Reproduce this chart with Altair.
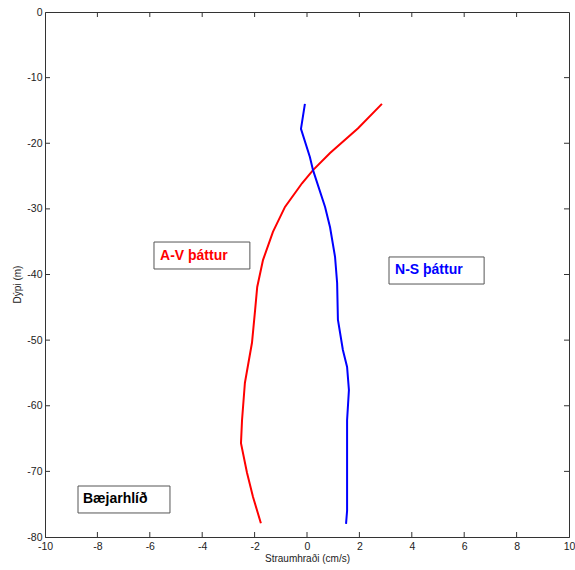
import altair as alt
import pandas as pd

# --- data ---
av_depth = [-14, -17.7, -21.5, -24.1, -26.1, -29.7, -33.5, -37.8, -41.9, -45.4,
            -50.4, -56.5, -62.2, -65.7, -70.2, -73.9, -77.9]
av_speed = [2.86, 1.95, 0.88, 0.23, -0.19, -0.84, -1.30, -1.68, -1.90, -1.98,
            -2.10, -2.37, -2.48, -2.52, -2.29, -2.06, -1.76]

ns_depth = [-14, -17.8, -22.1, -24.1, -29.7, -32.8, -37.3, -41.3, -46.9, -51.5,
            -54.1, -57.6, -62.2, -66.0, -76.0, -78.0]
ns_speed = [-0.08, -0.23, 0.11, 0.23, 0.69, 0.88, 1.07, 1.15, 1.18, 1.37,
            1.53, 1.60, 1.53, 1.53, 1.53, 1.49]

x_ticks = [-10, -8, -6, -4, -2, 0, 2, 4, 6, 8, 10]
y_ticks = [0, -10, -20, -30, -40, -50, -60, -70, -80]

labels = ["A-V þáttur", "N-S þáttur", "Bæjarhlíð"]
label_colors = ["#ff0000", "#0000ff", "#000000"]
label_x = [-5.61, 3.36, -8.55]
label_y = [-37.2, -39.3, -74.2]
box_x1 = [-5.84, 3.13, -8.74]
box_x2 = [-2.18, 6.76, -5.23]
box_y1 = [-35.05, -37.33, -72.23]
box_y2 = [-39.16, -41.45, -76.34]

W, H = 524, 525
FONT = "Liberation Sans"
XT = "Straumhraði (cm/s)"
YT = "Dýpi (m)"

lines_df = pd.concat([
    pd.DataFrame({"v": av_speed, "d": av_depth, "s": "A-V", "i": range(len(av_depth))}),
    pd.DataFrame({"v": ns_speed, "d": ns_depth, "s": "N-S", "i": range(len(ns_depth))}),
])
ann_df = pd.DataFrame({"t": labels, "c": label_colors, "x": label_x, "y": label_y,
                       "x1": box_x1, "x2": box_x2, "y1": box_y1, "y2": box_y2})
xt_df = pd.DataFrame({"t": x_ticks[1:-1]})
yt_df = pd.DataFrame({"t": y_ticks[1:-1]})

xs = alt.Scale(domain=[-10, 10], nice=False, zero=False)
ys = alt.Scale(domain=[-80, 0], nice=False, zero=False)

xaxis = alt.Axis(values=x_ticks, ticks=False, grid=False, labelPadding=4,
                 titlePadding=2, labelFontSize=10.5, titleFontSize=10,
                 labelColor="#222", titleColor="#222", labelFont=FONT,
                 titleFont=FONT, titleFontWeight="normal",
                 domainColor="#333", labelFlush=False,
                 labelExpr="toString(datum.value)")
yaxis = alt.Axis(values=y_ticks, ticks=False, grid=False, labelPadding=3,
                 labelFontSize=10.5, titleFontSize=10, labelColor="#222",
                 titleColor="#222", labelFont=FONT, titleFont=FONT,
                 titleFontWeight="normal", domainColor="#333",
                 titleX=-28, titleY=272, titleAngle=-90,
                 titleBaseline="middle", titleAlign="center",
                 labelFlush=False, labelExpr="toString(datum.value)")


def X(f):
    return alt.X(f, scale=xs, title=XT, axis=xaxis)


def Y(f):
    return alt.Y(f, scale=ys, title=YT, axis=yaxis)


lines = alt.Chart(lines_df).mark_line(strokeWidth=2).encode(
    x=X("v:Q"),
    y=Y("d:Q"),
    color=alt.Color("s:N", scale=alt.Scale(domain=["A-V", "N-S"], range=["#ff0000", "#0000ff"]),
                    legend=None),
    order="i:Q",
)

boxes = alt.Chart(ann_df).mark_rect(fill="white", stroke="#555", strokeWidth=1).encode(
    x=X("x1:Q"), x2="x2:Q",
    y=Y("y1:Q"), y2="y2:Q",
)

texts = alt.Chart(ann_df).mark_text(align="left", baseline="middle", fontSize=14,
                                    fontWeight="bold", font=FONT).encode(
    x=X("x:Q"),
    y=Y("y:Q"),
    text="t:N",
    color=alt.Color("c:N", scale=None),
)

xb = alt.Chart(xt_df).mark_rule(color="#333").encode(
    x=X("t:Q"), y=alt.value(H), y2=alt.value(H - 5))
xtp = alt.Chart(xt_df).mark_rule(color="#333").encode(
    x=X("t:Q"), y=alt.value(0), y2=alt.value(5))
yl = alt.Chart(yt_df).mark_rule(color="#333").encode(
    y=Y("t:Q"), x=alt.value(0), x2=alt.value(5))
yr = alt.Chart(yt_df).mark_rule(color="#333").encode(
    y=Y("t:Q"), x=alt.value(W), x2=alt.value(W - 5))

chart = alt.layer(lines, boxes, texts, xb, xtp, yl, yr).properties(
    width=W, height=H,
    autosize=alt.AutoSizeParams(type="none"),
    padding={"left": 45, "top": 12, "right": 6, "bottom": 33},
    background="white",
).configure_view(stroke="#333", strokeWidth=1)

chart.save("out.html", embed_options={"renderer": "svg", "actions": False})
